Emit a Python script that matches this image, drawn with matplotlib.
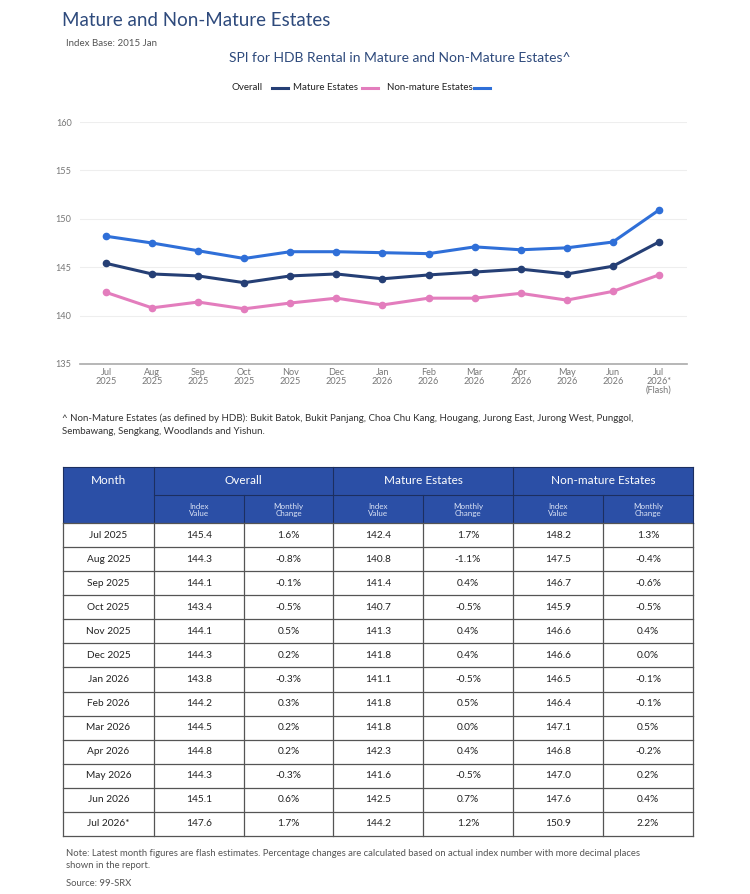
import matplotlib.pyplot as plt
from matplotlib.patches import Rectangle

plt.rcParams['font.family'] = ['Lato', 'DejaVu Sans']

months = ['Jul 2025', 'Aug 2025', 'Sep 2025', 'Oct 2025', 'Nov 2025', 'Dec 2025',
          'Jan 2026', 'Feb 2026', 'Mar 2026', 'Apr 2026', 'May 2026', 'Jun 2026', 'Jul 2026*']
tick_labels = ['Jul\n2025', 'Aug\n2025', 'Sep\n2025', 'Oct\n2025', 'Nov\n2025', 'Dec\n2025',
               'Jan\n2026', 'Feb\n2026', 'Mar\n2026', 'Apr\n2026', 'May\n2026', 'Jun\n2026',
               'Jul\n2026*\n(Flash)']
overall = [145.4, 144.3, 144.1, 143.4, 144.1, 144.3, 143.8, 144.2, 144.5, 144.8, 144.3, 145.1, 147.6]
overall_chg = ['1.6%', '-0.8%', '-0.1%', '-0.5%', '0.5%', '0.2%', '-0.3%', '0.3%', '0.2%', '0.2%', '-0.3%', '0.6%', '1.7%']
mature = [142.4, 140.8, 141.4, 140.7, 141.3, 141.8, 141.1, 141.8, 141.8, 142.3, 141.6, 142.5, 144.2]
mature_chg = ['1.7%', '-1.1%', '0.4%', '-0.5%', '0.4%', '0.4%', '-0.5%', '0.5%', '0.0%', '0.4%', '-0.5%', '0.7%', '1.2%']
nonmature = [148.2, 147.5, 146.7, 145.9, 146.6, 146.6, 146.5, 146.4, 147.1, 146.8, 147.0, 147.6, 150.9]
nonmature_chg = ['1.3%', '-0.4%', '-0.6%', '-0.5%', '0.4%', '0.0%', '-0.1%', '-0.1%', '0.5%', '-0.2%', '0.2%', '0.4%', '2.2%']

c_overall = '#253f75'
c_mature = '#e37dbd'
c_nonmature = '#2f6fd8'
c_head = '#2b4fa6'
c_title = '#2e4a7c'

W, H = 750, 894
fig = plt.figure(figsize=(W / 100, H / 100), dpi=100)

# overlay in pixel coordinates for text and table
ov = fig.add_axes([0, 0, 1, 1])
ov.set_xlim(0, W)
ov.set_ylim(H, 0)
ov.axis('off')

ov.text(62, 21, 'Mature and Non-Mature Estates', fontsize=13.5, color=c_title, va='center')
ov.text(66, 43, 'Index Base: 2015 Jan', fontsize=7, color='#555555', va='center')
ov.text(400, 58, 'SPI for HDB Rental in Mature and Non-Mature Estates^', fontsize=10,
        color=c_title, va='center', ha='center')

# legend (label first, then line, as in the original)
ov.text(232, 87, 'Overall', fontsize=7, color='#222222', va='center')
ov.plot([272, 288], [88, 88], color=c_overall, lw=2.2)
ov.text(293, 87, 'Mature Estates', fontsize=7, color='#222222', va='center')
ov.plot([362, 378], [88, 88], color=c_mature, lw=2.2)
ov.text(387, 87, 'Non-mature Estates', fontsize=7, color='#222222', va='center')
ov.plot([474, 490], [88, 88], color=c_nonmature, lw=2.2)

# line chart
ax = fig.add_axes([80 / W, 1 - 364 / H, 607 / W, 242 / H])
x = list(range(len(months)))
ax.plot(x, overall, color=c_overall, lw=2.2, marker='o', ms=4.5, zorder=3)
ax.plot(x, mature, color=c_mature, lw=2.2, marker='o', ms=4.5, zorder=3)
ax.plot(x, nonmature, color=c_nonmature, lw=2.2, marker='o', ms=4.5, zorder=3)
ax.set_xlim(-0.564, 12.61)
ax.set_ylim(135, 160)
ax.set_yticks([135, 140, 145, 150, 155, 160])
ax.set_xticks(x)
ax.set_xticklabels(tick_labels, fontsize=6.6, color='#777777', linespacing=0.95)
ax.tick_params(axis='y', labelsize=6.6, labelcolor='#777777', length=0, pad=6)
ax.tick_params(axis='x', length=0, pad=3)
ax.grid(axis='y', color='#eeeeee', lw=0.8)
for s in ['top', 'right', 'left']:
    ax.spines[s].set_visible(False)
ax.spines['bottom'].set_color('#aaaaaa')
ax.spines['bottom'].set_linewidth(1.2)
ax.set_axisbelow(True)

# footnote
ov.text(62, 418, '^ Non-Mature Estates (as defined by HDB): Bukit Batok, Bukit Panjang, Choa Chu Kang, '
        'Hougang, Jurong East, Jurong West, Punggol,', fontsize=7, color='#333333', va='center')
ov.text(62, 431, 'Sembawang, Sengkang, Woodlands and Yishun.', fontsize=7, color='#333333', va='center')

# table
cols = [63, 154, 244, 333, 423, 513, 603, 693]
top1, top2, top3 = 467, 495, 523
row_h = (836 - 523) / len(months)

ov.add_patch(Rectangle((cols[0], top1), cols[-1] - cols[0], top3 - top1, facecolor=c_head,
                       edgecolor='none'))
groups = [('Month', 0, 1), ('Overall', 1, 3), ('Mature Estates', 3, 5), ('Non-mature Estates', 5, 7)]
for name, a, b in groups:
    ov.text((cols[a] + cols[b]) / 2, (top1 + top2) / 2, name, fontsize=8.5, color='white',
            ha='center', va='center')
    ov.plot([cols[a], cols[a]], [top1, top3], color='#1c2f60', lw=0.8)
ov.plot([cols[1], cols[-1]], [top2, top2], color='#1c2f60', lw=0.8)
for j in range(1, 7):
    sub = 'Index\nValue' if j % 2 == 1 else 'Monthly\nChange'
    ov.text((cols[j] + cols[j + 1]) / 2, (top2 + top3) / 2 + 1, sub, fontsize=5.8, color='#dde4f5',
            ha='center', va='center', linespacing=1.0)
    if j % 2 == 0:
        ov.plot([cols[j], cols[j]], [top2, top3], color='#1c2f60', lw=0.8)

rows = list(zip(months, overall, overall_chg, mature, mature_chg, nonmature, nonmature_chg))
for i, row in enumerate(rows):
    yc = top3 + (i + 0.5) * row_h
    for j, val in enumerate(row):
        txt = f'{val:.1f}' if isinstance(val, float) else val
        ov.text((cols[j] + cols[j + 1]) / 2, yc, txt, fontsize=7.3, color='#222222',
                ha='center', va='center')
bottom = top3 + row_h * len(rows)
for i in range(len(rows) + 1):
    ov.plot([cols[0], cols[-1]], [top3 + i * row_h] * 2, color='#555555', lw=0.9)
for c in cols:
    ov.plot([c, c], [top3, bottom], color='#555555', lw=0.9)
ov.plot([cols[0], cols[-1]], [top1, top1], color='#1c2f60', lw=0.8)
ov.plot([cols[-1], cols[-1]], [top1, top3], color='#1c2f60', lw=0.8)

ov.text(66, 853, 'Note: Latest month figures are flash estimates. Percentage changes are calculated '
        'based on actual index number with more decimal places', fontsize=6.8, color='#555555', va='center')
ov.text(66, 866, 'shown in the report.', fontsize=6.8, color='#555555', va='center')
ov.text(66, 883, 'Source: 99-SRX', fontsize=6.8, color='#555555', va='center')

fig.savefig('out.png', dpi=100)
